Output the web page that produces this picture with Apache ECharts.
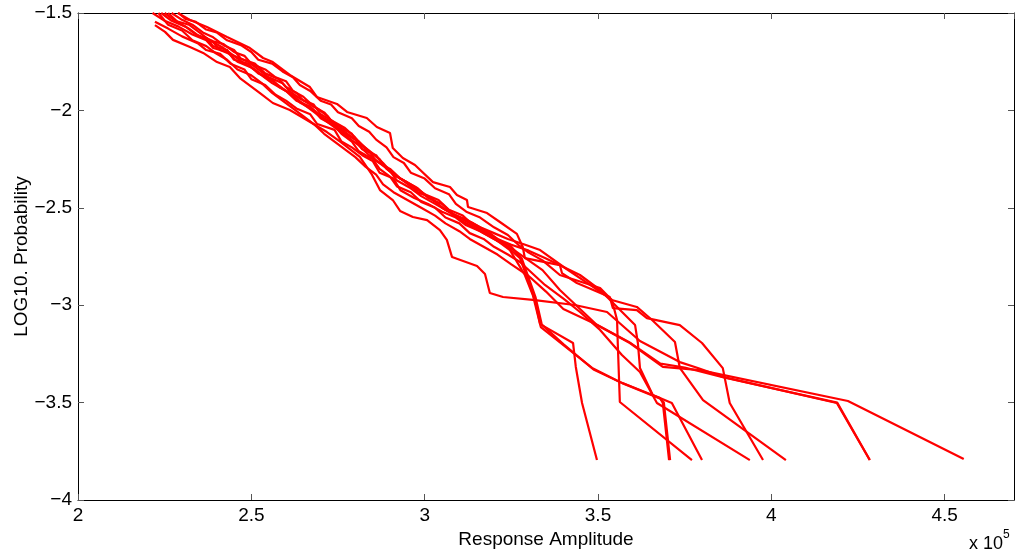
<!DOCTYPE html>
<html>
<head>
<meta charset="utf-8">
<script src="https://cdn.jsdelivr.net/npm/echarts@6/dist/echarts.min.js"></script>
<style>html,body{margin:0;padding:0;background:#fff}#c{width:1016px;height:556px}</style>
</head>
<body>
<div id="c"></div>
<script>
// x values are Response Amplitude in units of 1e5; y values are log10 probability
const xTicks = [2, 2.5, 3, 3.5, 4, 4.5];
const yTicks = [-4, -3.5, -3, -2.5, -2, -1.5];

const run1 = [[2.222,-1.545],[2.26,-1.58],[2.30,-1.62],[2.345,-1.655],[2.37,-1.69],[2.41,-1.71],[2.44,-1.76],[2.48,-1.79],[2.50,-1.84],[2.54,-1.87],[2.57,-1.92],[2.60,-1.95],[2.63,-1.99],[2.67,-2.02],[2.69,-2.07],[2.74,-2.10],[2.76,-2.16],[2.79,-2.19],[2.82,-2.23],[2.85,-2.26],[2.87,-2.32],[2.91,-2.35],[2.93,-2.41],[2.97,-2.45],[3.01,-2.48],[3.05,-2.52],[3.09,-2.55],[3.12,-2.59],[3.16,-2.62],[3.20,-2.66],[3.232,-2.691],[3.275,-2.758],[3.298,-2.871],[3.318,-2.973],[3.333,-3.097],[3.428,-3.194],[3.436,-3.317],[3.454,-3.502],[3.497,-3.795]];
const run2 = [[2.215,-1.5],[2.25,-1.54],[2.29,-1.57],[2.33,-1.61],[2.37,-1.64],[2.39,-1.68],[2.43,-1.70],[2.46,-1.75],[2.50,-1.78],[2.53,-1.82],[2.56,-1.86],[2.60,-1.90],[2.63,-1.95],[2.67,-1.98],[2.70,-2.03],[2.74,-2.07],[2.77,-2.12],[2.81,-2.16],[2.84,-2.21],[2.86,-2.26],[2.90,-2.30],[2.93,-2.35],[2.96,-2.39],[3.00,-2.43],[3.04,-2.46],[3.07,-2.51],[3.11,-2.54],[3.14,-2.59],[3.18,-2.62],[3.21,-2.67],[3.246,-2.717],[3.289,-2.845],[3.312,-2.948],[3.335,-3.112],[3.483,-3.322],[3.563,-3.394],[3.679,-3.476],[3.687,-3.502],[3.705,-3.795]];
const run3 = [[2.27,-1.5],[2.30,-1.535],[2.33,-1.56],[2.36,-1.60],[2.39,-1.625],[2.42,-1.665],[2.45,-1.69],[2.47,-1.735],[2.51,-1.76],[2.54,-1.81],[2.58,-1.84],[2.60,-1.88],[2.63,-1.91],[2.65,-1.95],[2.69,-1.99],[2.72,-2.03],[2.74,-2.08],[2.77,-2.11],[2.80,-2.15],[2.82,-2.20],[2.86,-2.23],[2.88,-2.28],[2.91,-2.33],[2.94,-2.36],[2.98,-2.40],[3.01,-2.45],[3.05,-2.48],[3.08,-2.53],[3.12,-2.56],[3.16,-2.60],[3.20,-2.63],[3.24,-2.66],[3.29,-2.69],[3.333,-2.717],[3.405,-2.809],[3.477,-2.896],[3.540,-2.973],[3.555,-3.076],[3.557,-3.194],[3.563,-3.497],[3.771,-3.795]];
const run4 = [[2.36,-1.62],[2.39,-1.645],[2.42,-1.66],[2.45,-1.70],[2.48,-1.72],[2.50,-1.76],[2.54,-1.79],[2.57,-1.83],[2.60,-1.85],[2.62,-1.90],[2.65,-1.93],[2.68,-1.98],[2.71,-2.01],[2.73,-2.05],[2.76,-2.09],[2.79,-2.12],[2.81,-2.17],[2.84,-2.21],[2.87,-2.25],[2.89,-2.30],[2.92,-2.34],[2.95,-2.37],[2.98,-2.42],[3.02,-2.45],[3.05,-2.50],[3.09,-2.54],[3.13,-2.58],[3.17,-2.62],[3.21,-2.66],[3.25,-2.69],[3.30,-2.72],[3.347,-2.758],[3.448,-2.845],[3.506,-2.922],[3.607,-3.102],[3.615,-3.194],[3.621,-3.322],[3.658,-3.461],[3.713,-3.502],[3.800,-3.795]];
const run5 = [[2.24,-1.5],[2.27,-1.54],[2.31,-1.57],[2.34,-1.61],[2.37,-1.63],[2.39,-1.67],[2.43,-1.69],[2.45,-1.74],[2.49,-1.76],[2.52,-1.81],[2.56,-1.84],[2.58,-1.88],[2.62,-1.92],[2.64,-1.96],[2.68,-2.00],[2.70,-2.04],[2.74,-2.08],[2.76,-2.12],[2.79,-2.16],[2.81,-2.21],[2.85,-2.25],[2.87,-2.30],[2.90,-2.34],[2.92,-2.39],[2.96,-2.42],[2.99,-2.47],[3.03,-2.50],[3.06,-2.55],[3.10,-2.58],[3.13,-2.63],[3.17,-2.66],[3.20,-2.70],[3.24,-2.74],[3.275,-2.778],[3.347,-2.896],[3.405,-2.973],[3.448,-3.035],[3.506,-3.127],[3.569,-3.256],[3.621,-3.343],[3.670,-3.502],[3.938,-3.795]];
const run6 = [[2.288,-1.5],[2.323,-1.536],[2.372,-1.572],[2.430,-1.623],[2.496,-1.680],[2.534,-1.731],[2.562,-1.752],[2.611,-1.818],[2.669,-1.880],[2.689,-1.931],[2.747,-1.967],[2.776,-2.008],[2.833,-2.039],[2.862,-2.085],[2.900,-2.116],[2.908,-2.193],[2.937,-2.244],[2.972,-2.280],[3.024,-2.368],[3.073,-2.393],[3.093,-2.434],[3.122,-2.460],[3.125,-2.496],[3.180,-2.527],[3.217,-2.573],[3.266,-2.634],[3.283,-2.701],[3.289,-2.758],[3.390,-2.794],[3.396,-2.835],[3.439,-2.886],[3.534,-2.958],[3.543,-3.015],[3.612,-3.025],[3.641,-3.066],[3.736,-3.102],[3.800,-3.194],[3.860,-3.323],[3.880,-3.502],[3.976,-3.795]];
const run7 = [[2.29,-1.5],[2.31,-1.53],[2.34,-1.545],[2.37,-1.585],[2.40,-1.60],[2.43,-1.64],[2.47,-1.665],[2.50,-1.70],[2.52,-1.74],[2.56,-1.76],[2.59,-1.80],[2.62,-1.83],[2.64,-1.87],[2.67,-1.90],[2.70,-1.95],[2.73,-1.97],[2.75,-2.01],[2.79,-2.04],[2.81,-2.08],[2.84,-2.11],[2.86,-2.15],[2.89,-2.19],[2.91,-2.24],[2.94,-2.27],[2.96,-2.32],[3.00,-2.35],[3.03,-2.40],[3.07,-2.43],[3.09,-2.48],[3.12,-2.52],[3.16,-2.55],[3.20,-2.60],[3.24,-2.64],[3.27,-2.69],[3.30,-2.73],[3.34,-2.77],[3.39,-2.845],[3.506,-2.912],[3.540,-2.973],[3.612,-3.009],[3.656,-3.076],[3.722,-3.189],[3.736,-3.322],[3.803,-3.487],[4.042,-3.795]];
const run8 = [[2.222,-1.562],[2.251,-1.597],[2.274,-1.638],[2.323,-1.674],[2.361,-1.705],[2.401,-1.752],[2.438,-1.777],[2.467,-1.834],[2.525,-1.911],[2.562,-1.962],[2.611,-1.998],[2.660,-2.049],[2.718,-2.111],[2.760,-2.165],[2.813,-2.239],[2.848,-2.330],[2.871,-2.409],[2.908,-2.460],[2.929,-2.516],[2.966,-2.547],[3.007,-2.563],[3.044,-2.614],[3.064,-2.665],[3.079,-2.753],[3.151,-2.799],[3.174,-2.840],[3.188,-2.937],[3.226,-2.958],[3.312,-2.973],[3.433,-2.999],[3.526,-3.035],[3.621,-3.184],[3.736,-3.292],[3.788,-3.322],[3.860,-3.368],[4.189,-3.502],[4.284,-3.795]];
const run9 = [[2.26,-1.5],[2.29,-1.55],[2.32,-1.58],[2.35,-1.62],[2.39,-1.65],[2.41,-1.69],[2.45,-1.72],[2.48,-1.76],[2.51,-1.79],[2.54,-1.83],[2.57,-1.86],[2.60,-1.90],[2.63,-1.94],[2.66,-1.98],[2.69,-2.02],[2.72,-2.06],[2.75,-2.10],[2.78,-2.14],[2.81,-2.18],[2.84,-2.23],[2.87,-2.27],[2.90,-2.31],[2.92,-2.36],[2.96,-2.40],[2.99,-2.44],[3.03,-2.48],[3.07,-2.52],[3.10,-2.56],[3.14,-2.60],[3.18,-2.64],[3.22,-2.68],[3.26,-2.72],[3.30,-2.77],[3.34,-2.82],[3.390,-2.922],[3.497,-3.102],[3.592,-3.194],[3.687,-3.317],[3.794,-3.333],[4.221,-3.492],[4.555,-3.790]];
const run10 = [[2.25,-1.5],[2.28,-1.54],[2.32,-1.56],[2.35,-1.60],[2.38,-1.64],[2.42,-1.68],[2.45,-1.72],[2.49,-1.75],[2.52,-1.79],[2.55,-1.83],[2.59,-1.86],[2.61,-1.90],[2.64,-1.94],[2.68,-1.97],[2.70,-2.02],[2.73,-2.05],[2.77,-2.09],[2.80,-2.14],[2.82,-2.18],[2.85,-2.22],[2.88,-2.27],[2.90,-2.31],[2.93,-2.35],[2.97,-2.39],[3.00,-2.43],[3.03,-2.47],[3.06,-2.51],[3.10,-2.55],[3.14,-2.58],[3.18,-2.62],[3.21,-2.66],[3.25,-2.70],[3.28,-2.76],[3.30,-2.86],[3.32,-2.96],[3.338,-3.10],[3.40,-3.20],[3.487,-3.33],[3.57,-3.40],[3.68,-3.48],[3.69,-3.50],[3.708,-3.795]];
const run11 = [[2.232,-1.5],[2.26,-1.56],[2.30,-1.59],[2.33,-1.64],[2.37,-1.67],[2.40,-1.71],[2.43,-1.74],[2.46,-1.79],[2.50,-1.82],[2.53,-1.86],[2.56,-1.91],[2.59,-1.95],[2.62,-1.99],[2.65,-2.03],[2.68,-2.07],[2.71,-2.12],[2.74,-2.16],[2.77,-2.20],[2.80,-2.24],[2.83,-2.29],[2.86,-2.33],[2.88,-2.38],[2.91,-2.42],[2.95,-2.46],[2.99,-2.50],[3.03,-2.54],[3.06,-2.58],[3.10,-2.62],[3.13,-2.66],[3.17,-2.70],[3.21,-2.74],[3.25,-2.79],[3.30,-2.85],[3.35,-2.93],[3.40,-3.02],[3.497,-3.10],[3.59,-3.19],[3.68,-3.30],[3.75,-3.32],[3.86,-3.37],[4.19,-3.50],[4.284,-3.795]];

const runs = [run1, run2, run3, run4, run5, run6, run7, run8, run9, run10, run11];

const FONT = 'Liberation Sans';
const fmt = v => (v < 0 ? '\u2212' : '') + String(Math.abs(v));

const chart = echarts.init(document.getElementById('c'), null, {renderer: 'canvas'});
const axisCommon = {
  axisLine: {show: true, onZero: false, lineStyle: {color: '#000', width: 1}},
  axisTick: {show: true, inside: true, length: 6, lineStyle: {color: '#555', width: 1}},
  splitLine: {show: false}
};
chart.setOption({
  animation: false,
  backgroundColor: '#fff',
  grid: {left: 78, top: 13, right: 2, bottom: 56, containLabel: false, outerBoundsMode: 'none'},
  xAxis: [
    Object.assign({}, axisCommon, {
      type: 'value', min: 2, max: 4.7, interval: 0.5, position: 'bottom',
      name: 'Response Amplitude', nameLocation: 'middle', nameGap: 21,
      nameTextStyle: {fontFamily: FONT, fontSize: 19, color: '#000'},
      axisLabel: {showMaxLabel: false, margin: 6, fontFamily: FONT, fontSize: 19, color: '#000', formatter: fmt}
    }),
    Object.assign({}, axisCommon, {
      type: 'value', min: 2, max: 4.7, interval: 0.5, position: 'top',
      axisLabel: {show: false}
    })
  ],
  yAxis: [
    Object.assign({}, axisCommon, {
      type: 'value', min: -4, max: -1.5, interval: 0.5, position: 'left',
      name: 'LOG10. Probability', nameLocation: 'middle', nameGap: 47, nameRotate: 90,
      nameMoveOverlap: false,
      nameTextStyle: {fontFamily: FONT, fontSize: 19, color: '#000'},
      axisLabel: {margin: 6, fontFamily: FONT, fontSize: 19, color: '#000', formatter: fmt}
    }),
    Object.assign({}, axisCommon, {
      type: 'value', min: -4, max: -1.5, interval: 0.5, position: 'right',
      axisLabel: {show: false}
    })
  ],
  graphic: [
    {type: 'text', left: 969, top: 535, style: {text: 'x 10', fontFamily: FONT, fontSize: 18, fill: '#000'}},
    {type: 'text', left: 1003, top: 529, style: {text: '5', fontFamily: FONT, fontSize: 12, fill: '#000'}}
  ],
  series: runs.map((r, i) => ({
    name: 'Run ' + (i + 1),
    type: 'line',
    data: r,
    xAxisIndex: 0, yAxisIndex: 0,
    showSymbol: false, symbol: 'none',
    clip: true,
    lineStyle: {color: '#ff0000', width: 2.2},
    emphasis: {disabled: true}
  }))
});
</script>
</body>
</html>
